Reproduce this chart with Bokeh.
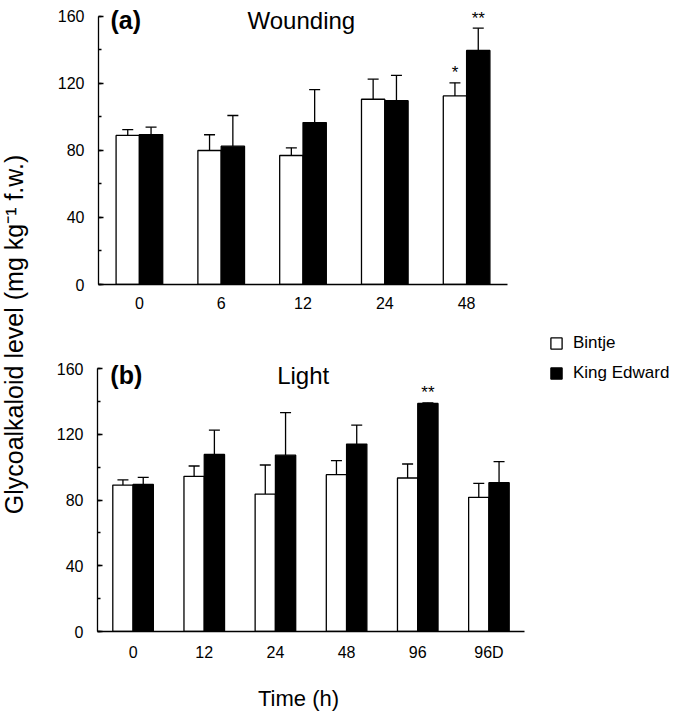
import numpy as np
from bokeh.plotting import figure
from bokeh.layouts import row, column
from bokeh.models import (ColumnDataSource, FactorRange, Range1d, Whisker, TeeHead,
                          SingleIntervalTicker, Label, Legend, LegendItem)
from bokeh.transform import dodge
from bokeh.core.properties import value
from bokeh.embed import file_html
from bokeh.resources import INLINE

FONT = "Liberation Sans"

# ---------------- data ----------------
series_names = ["Bintje", "King Edward"]

wound_times = ["0", "6", "12", "24", "48"]
wound_bintje = [89.0, 80.0, 77.0, 110.6, 112.6]
wound_bintje_sd = [3.5, 9.4, 4.6, 12.0, 7.8]
wound_king = [89.5, 82.6, 96.7, 109.7, 139.7]
wound_king_sd = [4.4, 18.3, 19.7, 15.1, 13.3]
wound_sig_bintje = ["", "", "", "", "*"]
wound_sig_king = ["", "", "", "", "**"]

light_times = ["0", "12", "24", "48", "96", "96D"]
light_bintje = [89.1, 94.4, 83.6, 95.4, 93.4, 81.6]
light_bintje_sd = [3.1, 6.3, 17.7, 8.5, 8.5, 8.5]
light_king = [89.5, 107.7, 107.3, 114.0, 138.7, 90.5]
light_king_sd = [4.3, 14.8, 25.8, 11.6, 0.4, 12.8]
light_sig_bintje = ["", "", "", "", "", ""]
light_sig_king = ["", "", "", "", "**", ""]

y_label = "Glycoalkaloid level (mg kg\u207b\u00b9 f.w.)"
x_label = "Time (h)"

BW = 0.285  # bar width (category units)
LW = 1.3


def panel(times, b, bsd, k, ksd, sb, sk, width, height, mbl, mbr, mbt, mbb, ytop):
    src = ColumnDataSource(dict(
        t=times, b=b, b_up=[m + s for m, s in zip(b, bsd)],
        k=k, k_up=[m + s for m, s in zip(k, ksd)], sb=sb, sk=sk))
    p = figure(x_range=FactorRange(*times), y_range=Range1d(0, ytop),
               width=width, height=height, output_backend="svg", toolbar_location=None,
               min_border_left=mbl, min_border_right=mbr, min_border_top=mbt,
               min_border_bottom=mbb)
    xb = dodge("t", -BW / 2, range=p.x_range)
    xk = dodge("t", BW / 2, range=p.x_range)
    rb = p.vbar(x=xb, top="b", width=BW, source=src, fill_color="white",
                line_color="black", line_width=LW)
    rk = p.vbar(x=xk, top="k", width=BW, source=src, fill_color="black",
                line_color="black", line_width=LW)
    for base, lo, up in ((xb, "b", "b_up"), (xk, "k", "k_up")):
        w = Whisker(base=base, lower=lo, upper=up, source=src,
                    upper_head=TeeHead(size=11, line_width=LW, line_color="black"),
                    lower_head=None, line_width=LW, line_color="black")
        p.add_layout(w)
    for xx, col, lab in ((xb, "b_up", "sb"), (xk, "k_up", "sk")):
        p.text(x=xx, y=col, text=lab, source=src, text_align="center",
               text_baseline="alphabetic", y_offset=-10, text_font=value(FONT),
               text_font_size="17px", text_color="black")

    p.grid.visible = False
    p.outline_line_color = None
    p.xaxis.major_tick_in = 0
    p.xaxis.major_tick_out = 0
    p.xaxis.axis_line_width = LW
    p.xaxis.major_label_text_font = FONT
    p.xaxis.major_label_text_font_size = "16px"
    p.xaxis.major_label_standoff = 12
    p.xaxis.major_label_text_color = "black"
    p.yaxis.ticker = SingleIntervalTicker(interval=40, num_minor_ticks=2)
    p.yaxis.bounds = (0, 160)
    p.yaxis.axis_line_width = LW
    p.yaxis.major_tick_in = 5
    p.yaxis.major_tick_out = 0
    p.yaxis.minor_tick_in = 3
    p.yaxis.minor_tick_out = 0
    p.yaxis.major_tick_line_width = LW
    p.yaxis.minor_tick_line_width = LW
    p.yaxis.major_label_text_font = FONT
    p.yaxis.major_label_text_font_size = "16px"
    p.yaxis.major_label_standoff = 14
    p.yaxis.major_label_text_color = "black"
    return p, rb, rk


def blank(width, height, x_range=None, y_range=None):
    f = figure(width=width, height=height,
               x_range=x_range if x_range is not None else Range1d(0, width),
               y_range=y_range if y_range is not None else Range1d(0, height),
               min_border=0, min_border_left=0,
               min_border_right=0, min_border_top=0, min_border_bottom=0,
               toolbar_location=None, output_backend="svg",
               x_axis_type=None, y_axis_type=None)
    f.outline_line_color = None
    f.grid.visible = False
    return f


# top panel (a)
pa, _, _ = panel(wound_times, wound_bintje, wound_bintje_sd, wound_king, wound_king_sd,
                 wound_sig_bintje, wound_sig_king,
                 626, 330, 50, 167, 0, 46, 169.55)
pa.add_layout(Label(x=0.147, y=149.6, text="(a)", text_font=FONT, text_font_size="25px",
                    text_font_style="bold", text_color="black"))
pa.add_layout(Label(x=2.48, y=149.3, text="Wounding", text_font=FONT, text_font_size="24px",
                    text_align="center", text_color="black"))

# bottom panel (b)
pb, rb, rk = panel(light_times, light_bintje, light_bintje_sd, light_king, light_king_sd,
                   light_sig_bintje, light_sig_king,
                   498, 338, 49, 22, 0, 37, 183.12)
pb.add_layout(Label(x=0.18, y=147.8, text="(b)", text_font=FONT, text_font_size="25px",
                    text_font_style="bold", text_color="black"))
pb.add_layout(Label(x=2.89, y=147.8, text="Light", text_font=FONT, text_font_size="24px",
                    text_align="center", text_color="black"))

# legend holder (its frame is aligned with panel (b)'s frame)
lg = blank(128, 338)
idx = list(range(len(light_times)))
lb = lg.vbar(x=idx, top=light_bintje, width=0.285, fill_color="white",
             line_color="black", line_width=LW, visible=False)
lk = lg.vbar(x=idx, top=light_king, width=0.285, fill_color="black",
             line_color="black", line_width=LW, visible=False)
legend = Legend(items=[LegendItem(label=series_names[0], renderers=[lb]),
                       LegendItem(label=series_names[1], renderers=[lk])],
                location="top_left", padding=0, margin=3, spacing=10,
                glyph_width=14, glyph_height=14, label_height=14, label_standoff=10,
                label_text_font=FONT, label_text_font_size="17px",
                label_text_color="black", inactive_fill_alpha=0,
                border_line_color=None, background_fill_alpha=0)
lg.add_layout(legend)

# x-axis title holder (frame aligned with panel (a)'s frame: page x 98..507)
xl = blank(626, 44, x_range=Range1d(98, 507))
xl.add_layout(Label(x=298, y=14, text=x_label, text_font=FONT, text_font_size="22px",
                    text_align="center", text_baseline="alphabetic", text_color="black"))

# y-axis title holder
yl = blank(48, 712)
yl.add_layout(Label(x=13, y=378, text=y_label, angle=np.pi / 2, text_align="center",
                    text_baseline="middle", text_font=FONT, text_font_size="25px",
                    text_color="black"))

layout = row(yl, column(pa, row(pb, lg), xl))

open("out.html", "w").write(file_html(layout, INLINE))
